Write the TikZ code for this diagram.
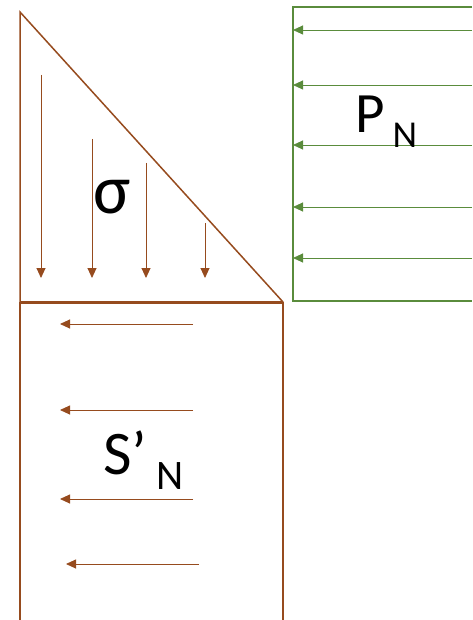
\documentclass[tikz,border=0pt]{standalone}
\usepackage{fontspec}
\setmainfont{Carlito}
\usetikzlibrary{arrows.meta}
\definecolor{brn}{RGB}{150,75,30}
\definecolor{grn}{RGB}{90,140,60}
\tikzset{
  bline/.style={draw=brn,line width=1.5pt},
  gline/.style={draw=grn,line width=1.5pt},
  barrow/.style={draw=brn,line width=0.9pt,-{Triangle[length=10pt,width=9pt]}},
  garrow/.style={draw=grn,line width=0.9pt,-{Triangle[length=10pt,width=9pt]}},
  lbl/.style={inner sep=0pt,anchor=base,text=black}
}
\begin{document}
\begin{tikzpicture}[x=1pt,y=-1pt]
\useasboundingbox (0,0) rectangle (472,620);
% triangle
\coordinate (tA) at (20,12);
\coordinate (tB) at (20,302);
\coordinate (tC) at (283,302);
\draw[bline] (tB) -- (tA) -- (tC);
\draw[draw=brn,line width=3pt] (tB) -- (tC);
% down arrows
\foreach \x/\y [count=\i] in {41/75,92/139,146/163,205/223}{
  \coordinate (d\i s) at (\x,\y);
  \coordinate (d\i e) at (\x,278);
  \draw[barrow] (d\i s) -- (d\i e);
}
\node[lbl,font=\fontsize{70}{72}\selectfont] (sig) at (112,214) {σ};
% lower rectangle
\coordinate (rB) at (20,620);
\coordinate (rC) at (283,620);
\draw[bline] (tB) -- (rB);
\draw[bline] (tC) -- (rC);
\foreach \y/\xs/\xe [count=\i] in {324/193/60,410/193/60,499/193/60,564/199/66}{
  \coordinate (l\i s) at (\xs,\y);
  \coordinate (l\i e) at (\xe,\y);
  \draw[barrow] (l\i s) -- (l\i e);
}
\node[lbl,font=\fontsize{62}{66}\selectfont] (S) at (125,474) {S’};
\node[lbl,font=\fontsize{42}{44}\selectfont] (SN) at (170,489) {N};
% green rectangle
\coordinate (g1) at (472,7);
\coordinate (g2) at (293,7);
\coordinate (g3) at (293,301);
\coordinate (g4) at (472,301);
\draw[gline] (g1) -- (g2) -- (g3) -- (g4);
\foreach \y [count=\i] in {30,85,145,207,258}{
  \coordinate (p\i s) at (472,\y);
  \coordinate (p\i e) at (293,\y);
  \draw[garrow] (p\i s) -- (p\i e);
}
\node[lbl,font=\fontsize{57}{60}\selectfont] (P) at (370,133) {P};
\node[lbl,font=\fontsize{38}{40}\selectfont] (PN) at (405,148) {N};
\end{tikzpicture}
\end{document}
